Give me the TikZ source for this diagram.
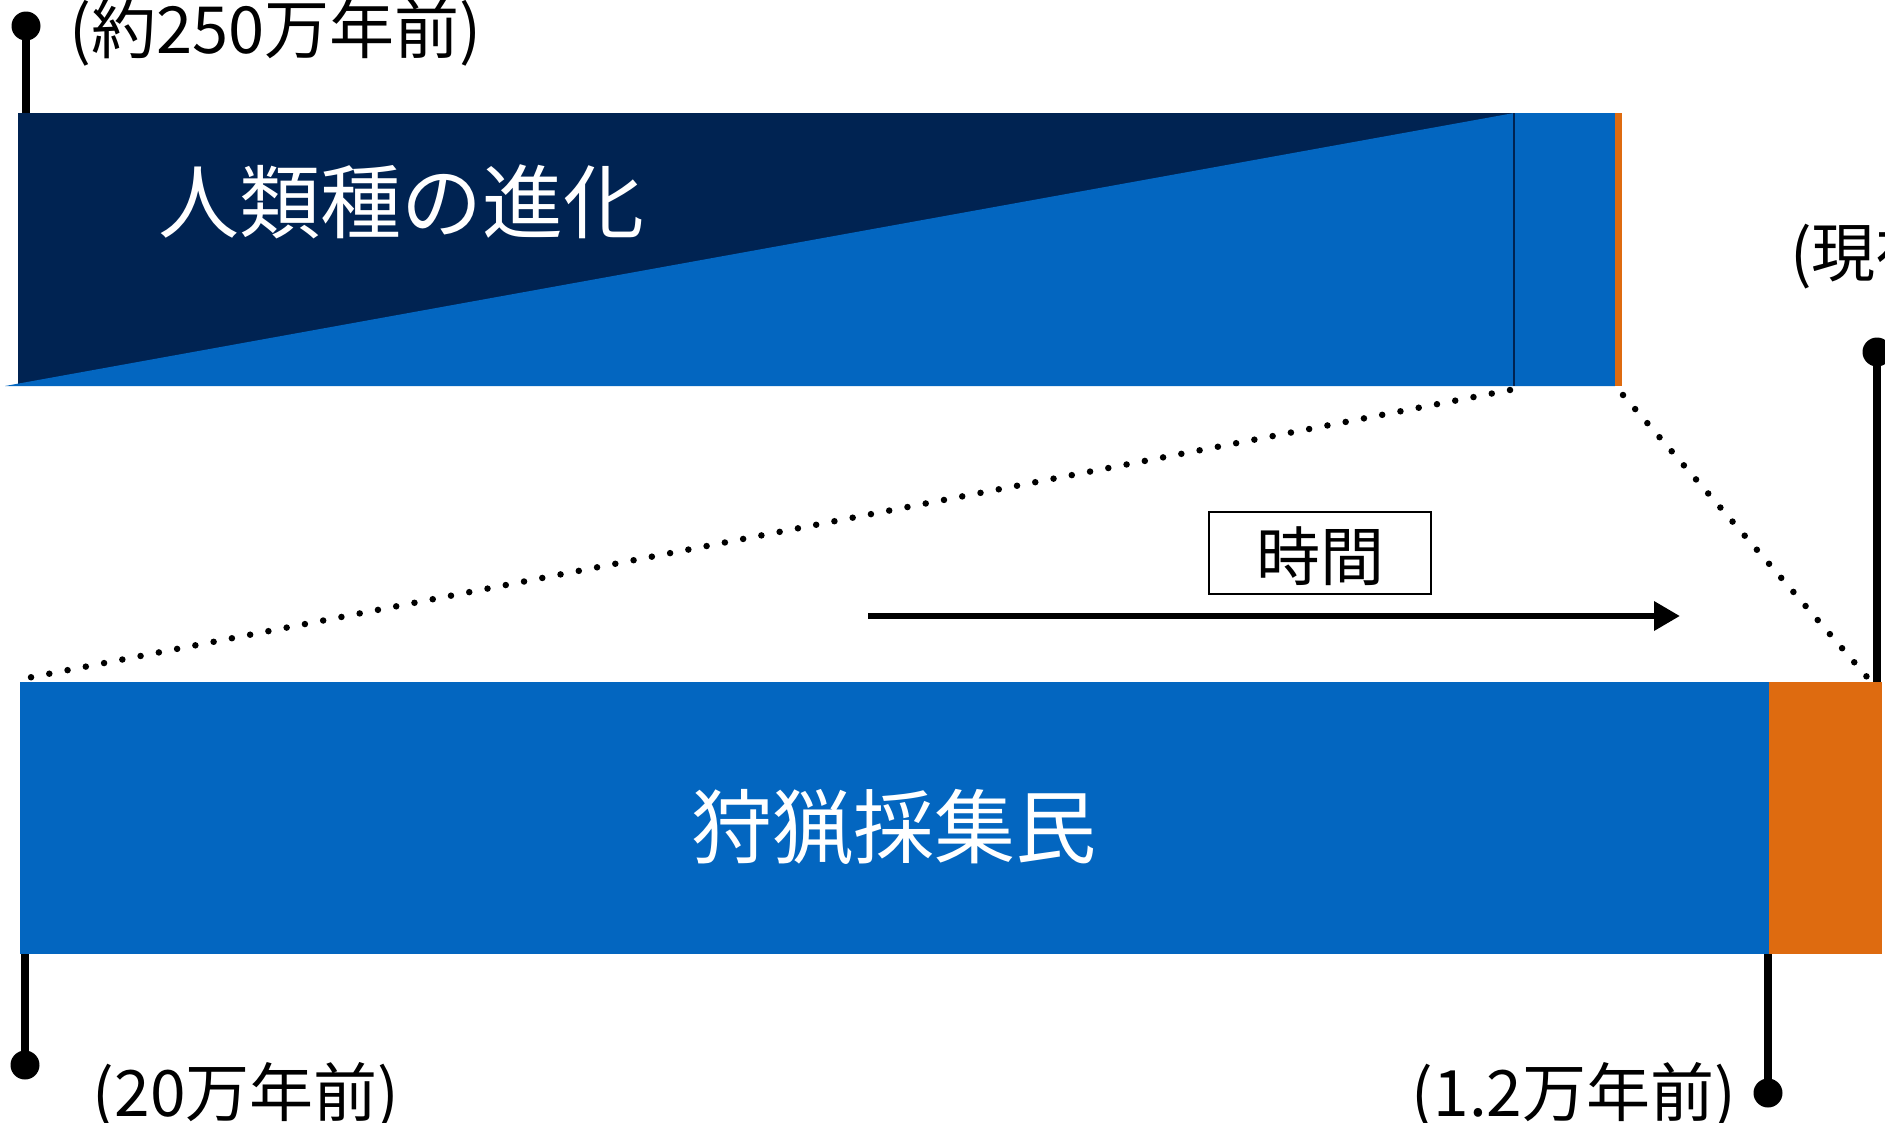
\documentclass[tikz,border=0pt]{standalone}
\usepackage{fontspec}
\setmainfont{Noto Sans CJK JP}
\usetikzlibrary{arrows.meta}
\definecolor{navy}{HTML}{002352}
\definecolor{cblue}{HTML}{0366C0}
\definecolor{corange}{HTML}{DE6B10}
\begin{document}
\begin{tikzpicture}[x=1pt,y=-1pt,
  lbl/.style={inner sep=0pt,font=\fontsize{64}{70}\selectfont,text=black},
  title/.style={inner sep=0pt,font=\fontsize{81}{88}\selectfont,text=white},
  stem/.style={line width=7.5pt,black},
  knob/.style={circle,fill=black,inner sep=0pt,minimum size=29pt},
  dots/.style={line width=6.5pt,line cap=round,dash pattern=on 0pt off 18.6pt},
  seg/.style={inner sep=0pt,outer sep=0pt,draw=none,anchor=north west}]
\useasboundingbox (0,0) rectangle (1885,1122);
% top bar
\fill[navy] (18,113) rectangle (1514,386);
\fill[cblue] (5,386) -- (1514,113) -- (1615,113) -- (1615,386) -- cycle;
\fill[corange] (1615,113) rectangle (1622,386);
\draw[navy,line width=1.5pt] (1514,113) -- (1514,386);
\coordinate (topL) at (26,113);
\coordinate (zoomA) at (1510,390);
\coordinate (zoomB) at (1623,395);
\node[title,anchor=base] (evo) at (401,232) {人類種の進化};
% bottom bar
\node[seg,fill=cblue,minimum width=1749pt,minimum height=272pt] (hunt) at (20,682) {};
\node[seg,fill=corange,minimum width=113pt,minimum height=272pt] (agri) at (1769,682) {};
\node[title,anchor=base] (huntlbl) at (894,857) {狩猟採集民};
\coordinate (botA) at (22,679);
\coordinate (botB) at (1867,677);
% dotted zoom lines
\draw[dots] (zoomA) -- (botA);
\draw[dots] (zoomB) -- (botB);
% markers
\node[knob] (k1) at (26,26) {};
\draw[stem] (k1.center) -- (topL);
\node[lbl,anchor=base west,font=\fontsize{65}{70}\selectfont] (l1) at (69,53) {(約250万年前)};
\node[knob] (k2) at (1877,352) {};
\coordinate (k2end) at (1877,682);
\draw[stem] (k2.center) -- (k2end);
\node[lbl,anchor=base west] (l2) at (1790,276) {(現在)};
\node[knob] (k3) at (25,1065) {};
\coordinate (k3top) at (25,954);
\draw[stem] (k3top) -- (k3.center);
\node[lbl,anchor=base] (l3) at (246,1116) {(20万年前)};
\node[knob] (k4) at (1768,1093) {};
\coordinate (k4top) at (1768,954);
\draw[stem] (k4top) -- (k4.center);
\node[lbl,anchor=base] (l4) at (1574,1116) {(1.2万年前)};
% time arrow
\coordinate (arS) at (868,616);
\coordinate (arE) at (1680,616);
\draw[line width=6.5pt,-{Triangle[length=26pt,width=28pt]}] (arS) -- (arE);
\node[draw,line width=1.5pt,inner sep=0pt,minimum width=222pt,minimum height=82pt] (timebox) at (1320,553) {};
\node[lbl,anchor=base] (timelbl) at (1320,580) {時間};
\end{tikzpicture}
\end{document}
